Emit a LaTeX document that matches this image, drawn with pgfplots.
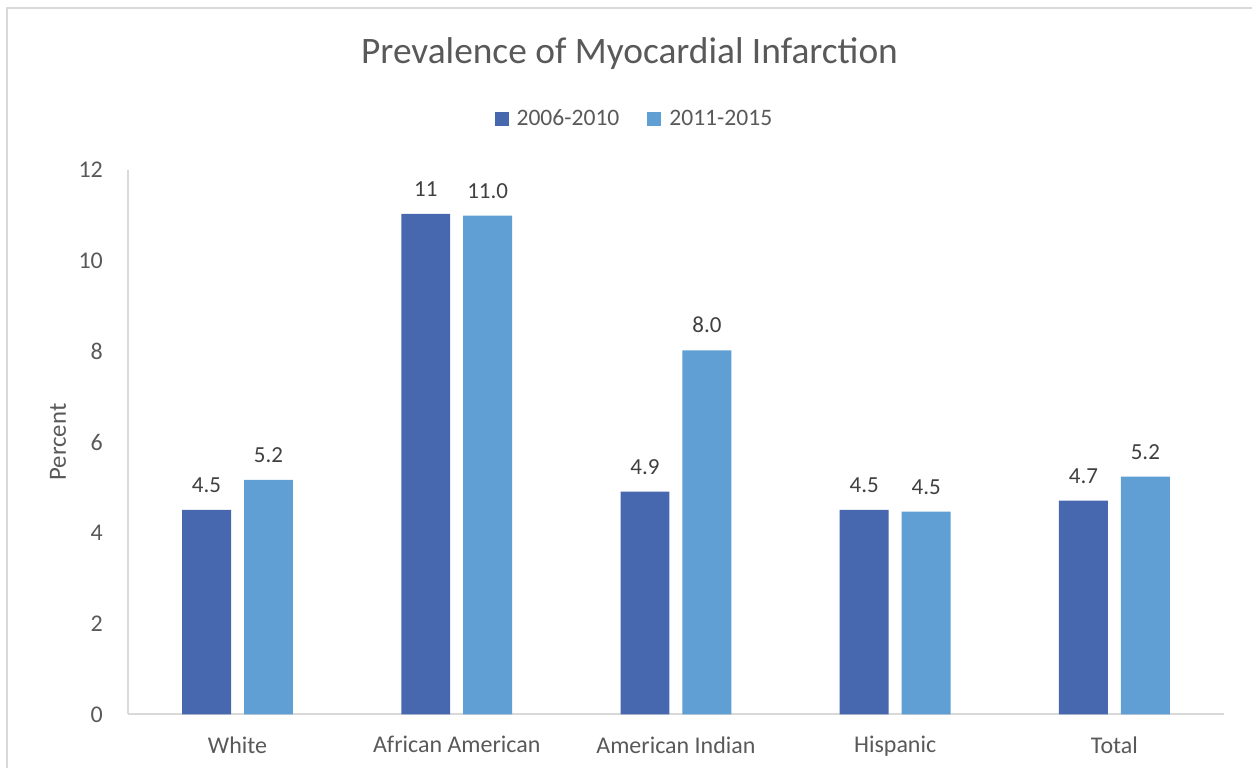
\documentclass[border=0pt]{standalone}
\usepackage{pgfplots}
\pgfplotsset{compat=1.18}
\usepackage{pgfplotstable}
\usepackage{fontspec}
\setmainfont{Carlito}
\definecolor{c1}{HTML}{4767AF}
\definecolor{c2}{HTML}{609FD3}
\definecolor{txt}{HTML}{595959}
\definecolor{lbl}{HTML}{404040}
\definecolor{ax}{HTML}{D9D9D9}

\pgfplotstableread{
x y lab
0 4.51 4.5
1 11.03 11
2 4.91 4.9
3 4.51 4.5
4 4.71 4.7
}\first
\pgfplotstableread{
x y lab
0 5.17 5.2
1 10.99 11.0
2 8.02 8.0
3 4.47 4.5
4 5.24 5.2
}\second

\begin{document}
\begin{tikzpicture}
\path (0,0) rectangle (626.5pt,384.5pt);
\draw[ax, line width=1pt] (3.5pt,0) -- (3.5pt,380.5pt) -- (626.5pt,380.5pt);
\node[txt, font=\fontsize{18.7}{22}\selectfont] at (315pt,357.5pt) {Prevalence of Myocardial Infarction};
\begin{axis}[
  at={(64pt,27pt)}, anchor=south west,
  scale only axis, width=548.5pt, height=272.5pt,
  xmin=-0.5, xmax=4.5, ymin=0, ymax=12,
  ytick={0,2,...,12},
  xtick={0,...,4},
  xticklabels={White,African American,American Indian,Hispanic,Total},
  axis lines*=left,
  axis line style={ax, line width=1pt},
  major tick length=0pt,
  tick label style={txt, font=\fontsize{12}{14}\selectfont},
  /pgf/number format/assume math mode=true,
  yticklabel style={xshift=-9pt},
  xticklabel style={yshift=-7.5pt},
  ylabel={Percent},
  every axis y label/.style={at={(axis description cs:-0.0638,0.5)}, rotate=90, anchor=center, txt, font=\fontsize{12.4}{14}\selectfont},
  ybar, bar width=24.5pt,
  nodes near coords,
  point meta=explicit symbolic,
  nodes near coords style={anchor=south, inner sep=0pt, yshift=8.5pt, lbl, font=\fontsize{11.5}{13}\selectfont},
  legend columns=2,
  legend style={draw=none, fill=none, at={(axis description cs:0.463,1.0936)}, anchor=center,
    font=\fontsize{11.8}{14}\selectfont, text=txt,
    /tikz/every even column/.append style={column sep=12pt}},
  legend image code/.code={\fill[#1] (0pt,-3.5pt) rectangle (7pt,3.5pt); \path (9pt,0pt);},
]
\addplot[fill=c1, draw=none, bar shift=-15.5pt] table[x=x, y=y, meta=lab] {\first};
\addlegendentry{2006-2010}
\addplot[fill=c2, draw=none, bar shift=15.5pt] table[x=x, y=y, meta=lab] {\second};
\addlegendentry{2011-2015}
\end{axis}
\end{tikzpicture}
\end{document}
